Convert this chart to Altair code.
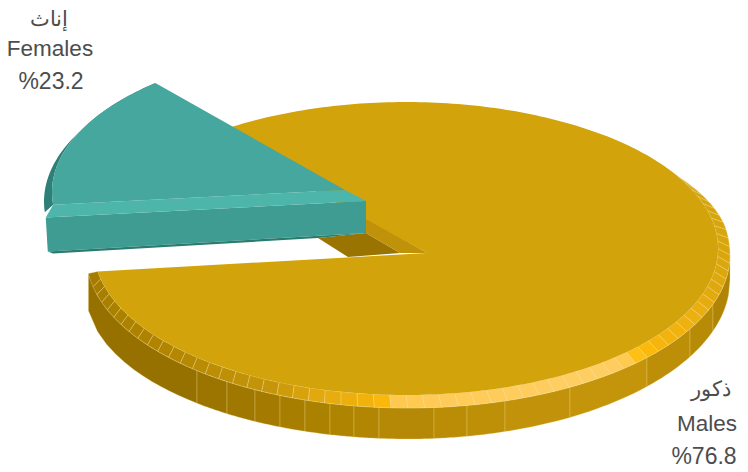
import math
import altair as alt
import pandas as pd

# ---- chart values ----
labels_ar = ["إناث", "ذكور"]
labels_en = ["Females", "Males"]
labels_pct = ["%23.2", "%76.8"]
shares = [23.2, 76.8]

# ---- colours ----
GOLD_TOP = "#d3a30c"
GOLD_NOTCH_DARK = "#9a7400"
GOLD_NOTCH_MID = "#c0920a"
TEAL_TOP = "#45a79d"
TEAL_BAND = "#4db5aa"
TEAL_FRONT = "#3f9c92"
TEAL_RIM = "#2e7f78"
TEAL_EDGE = "#2a7b70"
EDGE = "#f0dc98"
TEXT = "#4d4d4d"
band_stops = [(173, "#a37b00"), (140, "#b28500"), (115, "#c6960a"), (107, "#e0a80e"),
              (96, "#f5b40c"), (92.5, "#ffbe0a"), (91.5, "#ffc84f"), (80, "#ffcc5a"),
              (52, "#ffce63"), (47, "#ffcc5a"), (43, "#ffbe0a"), (36, "#f4b30c"),
              (25, "#ecb010"), (14, "#e0a80e"), (0, "#d8a60c"), (-50, "#d3a30c")]
wall_breaks = [88.4, 197, 227, 255, 280, 305, 330, 354, 379, 434, 467, 505, 570, 647, 690, 713, 730]
wall_colors = ["#967100", "#9b7500", "#a07800", "#a47b00", "#a87e00", "#ab8100", "#af8400",
               "#b28603", "#b58805", "#bb8d07", "#be9008", "#c2930a", "#c4950b",
               "#bd8f08", "#b88b06", "#b08405"]

# ---- 3-D projection of the pie (pixels of the picture) ----
W, H = 732, 463
E1 = (406, 248.5, 312, 146.5)      # top face
E2 = (408, 255, 322, 153)          # outer edge of the bevel
F1 = (364, 192, 312, 146.5)        # exploded slice, top face
F2 = (366, 201.6, 322, 153)        # exploded slice, bevel
M_START = -128.5
M_SWEEP = shares[1] * 3.6 * 1.0833
F_END = 175
F_SWEEP = shares[0] * 3.6 * 0.635
M_APEX = (427, 253)
F_APEX = (345, 190)
F_CORNER = (366, 201)
DEPTH = 32


def ell(e, t):
    r = math.radians(t)
    return (e[0] + e[2] * math.cos(r), e[1] + e[3] * math.sin(r))


def arc(e, a, b, step=1.0):
    n = max(2, int(abs(b - a) / step))
    return [ell(e, a + (b - a) * i / n) for i in range(n + 1)]


def outer(t):
    # the bevel narrows towards the back of the pie
    if t >= 0:
        return ell(E2, t)
    r = math.radians(t)
    return (E2[0] + E2[2] * math.cos(r), E2[1] - 5 * min(1, -t / 10) + 135 * math.sin(r))


def outer_arc(a, b, step=0.5):
    n = max(2, int(abs(b - a) / step))
    return [outer(a + (b - a) * i / n) for i in range(n + 1)]


def e2_y(x):
    u = max(-1, min(1, (x - E2[0]) / E2[2]))
    return E2[1] + E2[3] * math.sqrt(1 - u * u)


def e3_y(x):
    u = max(-1, min(1, (x - E2[0]) / E2[2]))
    if x < E2[0]:
        return 293 + 146 * math.sqrt(1 - u * u)
    return 280 + 159 * math.sqrt(1 - u * u)


def mix(t):
    for (a, ca), (b, cb) in zip(band_stops, band_stops[1:]):
        if b <= t <= a:
            f = (a - t) / (a - b)
            pa = [int(ca[i:i + 2], 16) for i in (1, 3, 5)]
            pb = [int(cb[i:i + 2], 16) for i in (1, 3, 5)]
            return "#" + "".join(f"{round(p + (q - p) * f):02x}" for p, q in zip(pa, pb))
    return band_stops[-1][1]


def poly(pid, pts, fill, stroke=None):
    rows = []
    closed = list(pts) + [pts[0]]
    for i, (x, y) in enumerate(closed):
        rows.append({"id": pid, "i": i, "x": x, "y": y, "fill": fill, "stroke": stroke or fill})
    return rows


x_s = alt.Scale(domain=[8, 8 + W], range=[0, W])
y_s = alt.Scale(domain=[8, 8 + H], range=[0, H])


def layer(rows, sw=0.0, op=1.0):
    return alt.Chart(pd.DataFrame(rows)).mark_line(strokeWidth=sw, strokeOpacity=op, interpolate="linear", clip=False).encode(
        x=alt.X("x:Q", scale=x_s, axis=None),
        y=alt.Y("y:Q", scale=y_s, axis=None),
        order="i:Q",
        detail="id:N",
        fill=alt.Fill("fill:N", scale=None),
        stroke=alt.Stroke("stroke:N", scale=None),
    )


layers = []

# outer wall of the large slice
rows = []
for k, c in enumerate(wall_colors):
    a, b = wall_breaks[k], wall_breaks[k + 1]
    xs = [a + (b - a) * i / 12 for i in range(13)]
    pts = [(x, e2_y(x)) for x in xs] + [(x, e3_y(x)) for x in reversed(xs)]
    rows += poly(f"w{k}", pts, c, EDGE)
layers.append(layer(rows, 0.5, 0.6))

# notch walls
A = M_APEX
layers.append(layer(poly("n1", [(318, 238), (366, 233), (A[0] - 27, A[1]), (348, 257)], GOLD_NOTCH_DARK) +
                    poly("n2", [(340, 203), (A[0], A[1]), (A[0] - 27, A[1]), (366, 233)], GOLD_NOTCH_MID)))

# bevel of the large slice
rows = []
cur = M_START + M_SWEEP
step = 3.0
k = 0
while cur > -50:
    nxt = cur - step
    pts = arc(E1, cur, nxt, 0.5) + outer_arc(nxt, cur + (2 if k == 0 else 0))
    rows += poly(f"b{k}", pts, mix(cur - step / 2), EDGE)
    cur = nxt
    k += 1
layers.append(layer(rows, 0.5, 0.65))

# top of the large slice
top = arc(E1, M_START, M_START + M_SWEEP) + [A]
layers.append(layer(poly("top", top, GOLD_TOP)))

# exploded slice
f_start = F_END + F_SWEEP
rim = arc(F1, f_start, F_END) + arc(F2, 176.0, f_start)
rows = poly("rim", rim, TEAL_RIM)
C = F_CORNER
low_l = ell(F2, 174.0)
rows += poly("ft", [(low_l[0], low_l[1]), C, (C[0], C[1] + DEPTH), (low_l[0] + 2, low_l[1] + 34)], TEAL_FRONT)
rows += poly("fe", [(low_l[0] + 2, low_l[1] + 34), (C[0], C[1] + DEPTH), (318, 238), (53, 253.5)], TEAL_EDGE)
layers.append(layer(rows))
tip = ell(F1, F_END)
layers.append(layer(poly("fb", [tip, F_APEX, C, low_l], TEAL_BAND)))
layers.append(layer(poly("ftop", arc(F1, f_start, F_END) + [F_APEX], TEAL_TOP)))

# labels
text_rows = [
    {"t": labels_ar[0], "x": 49, "y": 26, "s": 21},
    {"t": labels_en[0], "x": 50, "y": 56, "s": 22.5},
    {"t": labels_pct[0], "x": 51, "y": 89, "s": 23},
    {"t": labels_ar[1], "x": 711, "y": 396, "s": 21},
    {"t": labels_en[1], "x": 707, "y": 431, "s": 22.5},
    {"t": labels_pct[1], "x": 704, "y": 464, "s": 23},
]
layers.append(alt.Chart(pd.DataFrame(text_rows)).mark_text(
    font="Liberation Sans", color=TEXT, align="center", baseline="alphabetic").encode(
    x=alt.X("x:Q", scale=x_s, axis=None), y=alt.Y("y:Q", scale=y_s, axis=None), text="t:N",
    size=alt.Size("s:Q", scale=None, legend=None)))

chart = alt.layer(*layers).properties(
    width=W, height=H, padding=0, autosize=alt.AutoSizeParams(type="none")
).configure_view(stroke=None)
chart.save("out.html", embed_options={"renderer": "svg", "actions": False})
